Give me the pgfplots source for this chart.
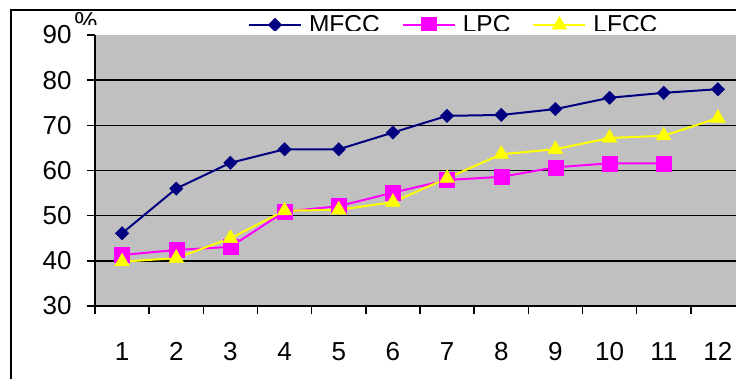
\documentclass[border=0pt]{standalone}
\usepackage{pgfplots}
\pgfplotsset{compat=1.18}
\usepackage{fontspec}
\setmainfont{Liberation Sans}
\definecolor{mfcc}{RGB}{0,0,128}
\definecolor{lpc}{RGB}{255,0,255}
\definecolor{lfcc}{RGB}{255,255,0}
\definecolor{plotgray}{RGB}{192,192,192}
\newcommand{\bigfont}{\fontsize{24.5}{28}\selectfont}
\newcommand{\tickfont}{\fontsize{26}{30}\selectfont}
\begin{document}
\begin{tikzpicture}[x=1pt,y=1pt]
\useasboundingbox (0,0) rectangle (736,378);
% outer chart border
\draw[line width=1.5pt] (11,-5) -- (11,368) -- (745,368);
% percent sign, clipped
\begin{scope}
\clip (60,353) rectangle (120,367);
\node[font=\tickfont, anchor=base, inner sep=0pt] at (86,347) {\%};
\end{scope}
% legend (clipped at bottom)
\begin{scope}
\clip (200,347) rectangle (745,367);
\begin{axis}[at={(0pt,0pt)}, anchor=south west, scale only axis,
  width=736pt, height=378pt, hide axis,
  xmin=0, xmax=736, ymin=0, ymax=378,
  legend columns=-1,
  legend image code/.code={\draw[mark repeat=2,mark phase=2] plot coordinates {(0pt,0pt)(26pt,0pt)(52pt,0pt)};},
  legend style={at={(axis description cs:0.337,0.934)}, anchor=west,
    draw=none, fill=white, inner sep=0pt, outer sep=0pt, font=\bigfont,
    nodes={inner sep=0pt},
    /tikz/every odd column/.append style={column sep=7pt},
    /tikz/every even column/.append style={column sep=22pt}},
]
\addlegendimage{color=mfcc, line width=2pt, mark=square*, mark size=4.7pt, mark options={rotate=45, line width=0.5pt}}
\addlegendimage{color=lpc, line width=2pt, mark=square*, mark size=7.5pt, mark options={line width=0.5pt}}
\addlegendimage{color=lfcc, line width=2pt, mark=triangle*, mark size=8.5pt, mark options={line width=0.5pt}}
\legend{MFCC,LPC,LFCC}
\end{axis}
\end{scope}
% main axis
\begin{axis}[at={(95pt,72pt)}, anchor=south west, scale only axis,
  width=650pt, height=271pt,
  xmin=0.5, xmax=12.5, ymin=30, ymax=90,
  axis background/.style={fill=plotgray},
  axis x line*=bottom, axis y line*=left,
  axis line style={line width=1.5pt, black, -},
  xtick={1,...,12},
  minor xtick={0.5,1.5,...,12.5},
  major x tick style={draw=none},
  ytick={40,50,60,70,80},
  extra y ticks={30,90},
  extra y tick style={grid=none},
  ymajorgrids,
  grid style={black, line width=1.5pt},
  tick align=outside,
  major tick length=8pt, minor tick length=8pt,
  tick style={black, line width=1.5pt},
  ticklabel style={font=\tickfont},
  yticklabel style={xshift=-12pt},
  xticklabel style={yshift=-25pt},
  /pgf/number format/assume math mode=true,
  clip=false,
]
\addplot[color=mfcc, line width=2pt, mark=square*, mark size=4.7pt, mark options={rotate=45, line width=0.5pt}]
coordinates {(1,46.1)(2,56.0)(3,61.7)(4,64.7)(5,64.7)(6,68.4)(7,72.1)(8,72.3)(9,73.6)(10,76.1)(11,77.2)(12,78.0)};
\addplot[color=lpc, line width=2pt, mark=square*, mark size=7.5pt, mark options={line width=0.5pt}]
coordinates {(1,41.3)(2,42.4)(3,43.1)(4,50.9)(5,52.1)(6,55.1)(7,57.9)(8,58.6)(9,60.7)(10,61.6)(11,61.6)};
\addplot[color=lfcc, line width=2pt, mark=triangle*, mark size=8.5pt, mark options={line width=0.5pt}]
coordinates {(1,39.8)(2,40.6)(3,45.0)(4,51.1)(5,51.3)(6,53.0)(7,58.3)(8,63.6)(9,64.7)(10,67.2)(11,67.7)(12,71.6)};
\end{axis}
\end{tikzpicture}
\end{document}
